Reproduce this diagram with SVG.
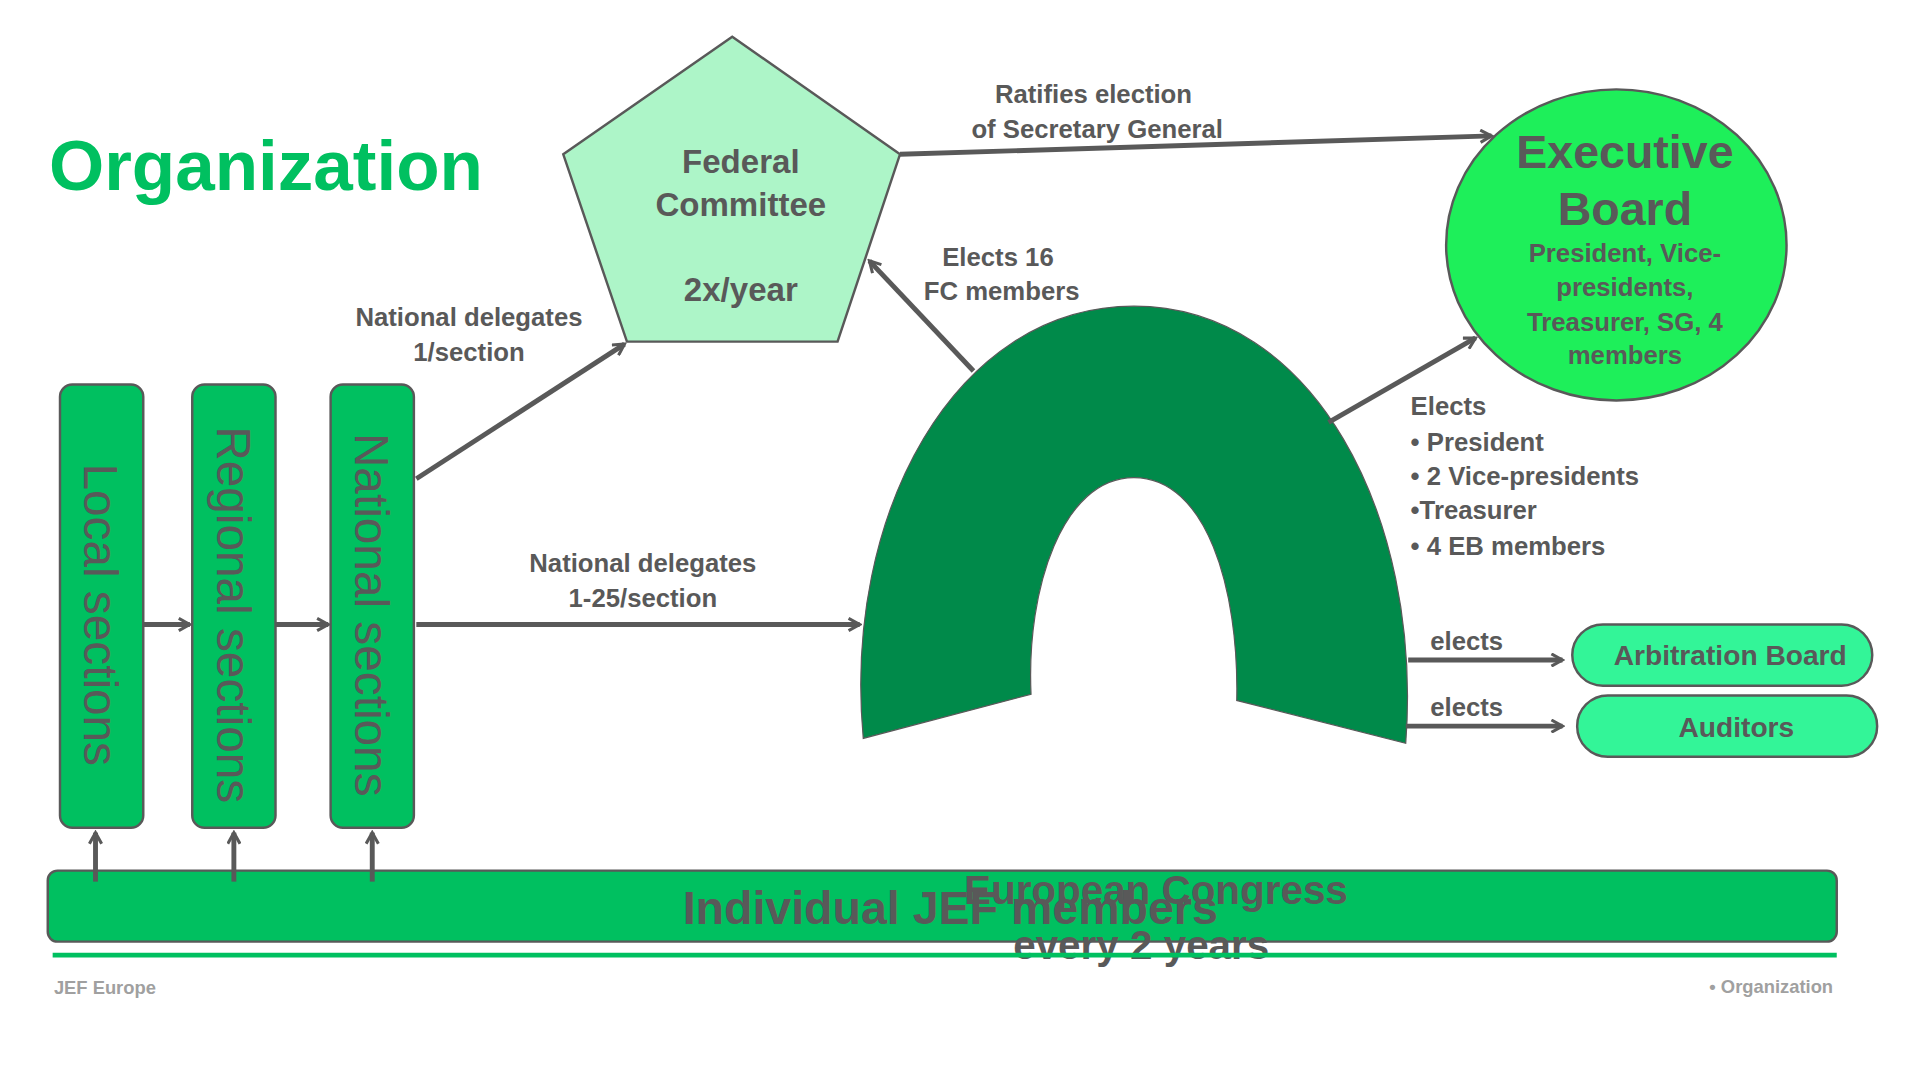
<svg xmlns="http://www.w3.org/2000/svg" width="1920" height="1080" viewBox="0 0 1920 1080">
<defs>
<marker id="ah" viewBox="0 0 12 12" refX="10" refY="6" markerWidth="12" markerHeight="12" markerUnits="userSpaceOnUse" orient="auto"><path d="M1,1 L10,6 L1,11" fill="none" stroke="#595959" stroke-width="2.5"/></marker>
<style>
text{font-family:"Liberation Sans",Arial,sans-serif;fill:#595959}
.lb{font-size:21px;font-weight:bold}
.vt{font-size:39px}
.cn{stroke:#595959;stroke-width:4;fill:none;marker-end:url(#ah)}
</style>
</defs>
<rect width="1920" height="1080" fill="#fff"/>
<g transform="scale(1.2245)">
<text x="40" y="155" style="font-size:58px;font-weight:bold;fill:#00c060">Organization</text>
<g id="federal"><polygon points="598,30 735,126 684,279 512,279 460,126" fill="#adf5c8" stroke="#595959" stroke-width="2"/>
<text x="605" y="141" text-anchor="middle" style="font-size:27px;font-weight:bold">Federal</text>
<text x="605" y="176" text-anchor="middle" style="font-size:27px;font-weight:bold">Committee</text>
<text x="605" y="246" text-anchor="middle" style="font-size:27px;font-weight:bold">2x/year</text></g>
<g id="exec"><ellipse cx="1320" cy="200" rx="139" ry="127" fill="#1eef5a" stroke="#595959" stroke-width="2"/>
<text x="1327" y="137" text-anchor="middle" style="font-size:38px;font-weight:bold">Executive</text>
<text x="1327" y="184" text-anchor="middle" style="font-size:38px;font-weight:bold">Board</text>
<text x="1327" y="214" text-anchor="middle" class="lb">President, Vice-</text>
<text x="1327" y="242" text-anchor="middle" class="lb">presidents,</text>
<text x="1327" y="270" text-anchor="middle" class="lb">Treasurer, SG, 4</text>
<text x="1327" y="297" text-anchor="middle" class="lb">members</text></g>
<g id="local"><rect x="49" y="314" width="68" height="362" rx="10" fill="#00c060" stroke="#595959" stroke-width="2"/><text transform="translate(69,502) rotate(90)" text-anchor="middle" class="vt">Local sections</text></g>
<g id="regional"><rect x="157" y="314" width="68" height="362" rx="10" fill="#00c060" stroke="#595959" stroke-width="2"/><text transform="translate(177,502) rotate(90)" text-anchor="middle" class="vt">Regional sections</text></g>
<g id="national"><rect x="270" y="314" width="68" height="362" rx="10" fill="#00c060" stroke="#595959" stroke-width="2"/><text transform="translate(290,502) rotate(90)" text-anchor="middle" class="vt">National sections</text></g>
<g id="members"><rect x="39" y="711" width="1461" height="58" rx="8" fill="#00c060" stroke="#595959" stroke-width="2"/>
<text x="776" y="755" text-anchor="middle" style="font-size:38px;font-weight:bold">Individual JEF members</text></g>
<g id="congress"><path d="M705,603 C688,420 780,250 926,250 C1072,250 1162,420 1148,607 L1010,572 C1012,480 985,390 926,390 C868,390 838,480 842,567 Z" fill="#008a4a" stroke="#595959" stroke-width="1"/>
<text x="944" y="738" text-anchor="middle" style="font-size:33px;font-weight:bold">European Congress</text>
<text x="932" y="783" text-anchor="middle" style="font-size:33px;font-weight:bold">every 2 years</text></g>
<g id="arb"><rect x="1284" y="510" width="245" height="50" rx="25" fill="#33f598" stroke="#595959" stroke-width="2"/><text x="1413" y="543" text-anchor="middle" style="font-size:23px;font-weight:bold">Arbitration Board</text></g>
<g id="aud"><rect x="1288" y="568" width="245" height="50" rx="25" fill="#33f598" stroke="#595959" stroke-width="2"/><text x="1418" y="602" text-anchor="middle" style="font-size:23px;font-weight:bold">Auditors</text></g>
<g id="connectors">
<line class="cn" x1="735" y1="126" x2="1218" y2="111"/>
<line class="cn" x1="795" y1="303" x2="710" y2="213"/>
<line class="cn" x1="1085" y1="345" x2="1205" y2="276"/>
<line class="cn" x1="340" y1="391" x2="510" y2="281"/>
<line class="cn" x1="340" y1="510" x2="702" y2="510"/>
<line class="cn" x1="117" y1="510" x2="155" y2="510"/>
<line class="cn" x1="225" y1="510" x2="268" y2="510"/>
<line class="cn" x1="1150" y1="539" x2="1276" y2="539"/>
<line class="cn" x1="1148" y1="593" x2="1276" y2="593"/>
<line class="cn" x1="78" y1="720" x2="78" y2="680"/>
<line class="cn" x1="191" y1="720" x2="191" y2="680"/>
<line class="cn" x1="304" y1="720" x2="304" y2="680"/>
</g>
<text x="893" y="84" text-anchor="middle" class="lb">Ratifies election</text>
<text x="896" y="113" text-anchor="middle" class="lb">of Secretary General</text>
<text x="815" y="217" text-anchor="middle" class="lb">Elects 16</text>
<text x="818" y="245" text-anchor="middle" class="lb">FC members</text>
<text x="383" y="266" text-anchor="middle" class="lb">National delegates</text>
<text x="383" y="295" text-anchor="middle" class="lb">1/section</text>
<text x="525" y="467" text-anchor="middle" class="lb">National delegates</text>
<text x="525" y="496" text-anchor="middle" class="lb">1-25/section</text>
<text x="1152" y="339" class="lb">Elects</text>
<text x="1152" y="368" class="lb">• President</text>
<text x="1152" y="396" class="lb">• 2 Vice-presidents</text>
<text x="1152" y="424" class="lb">•Treasurer</text>
<text x="1152" y="453" class="lb">• 4 EB members</text>
<text x="1168" y="531" class="lb">elects</text>
<text x="1168" y="585" class="lb">elects</text>
<line x1="43" y1="780" x2="1500" y2="780" stroke="#00c060" stroke-width="4"/>
<text x="44" y="812" style="font-size:15px;font-weight:bold;fill:#a0a0a0">JEF Europe</text>
<text x="1497" y="811" text-anchor="end" style="font-size:15px;font-weight:bold;fill:#a0a0a0">•  Organization</text>
</g>
</svg>
